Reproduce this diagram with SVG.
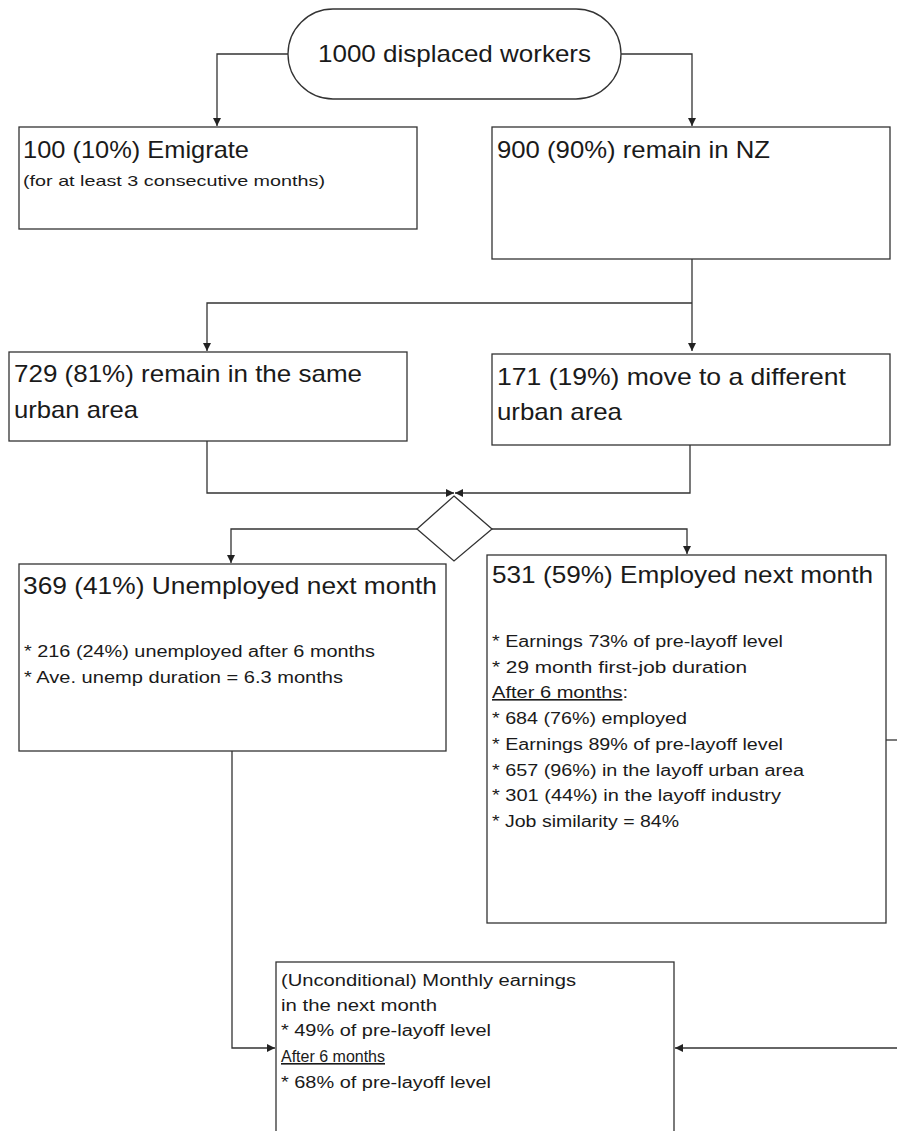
<svg xmlns="http://www.w3.org/2000/svg" width="897" height="1131" viewBox="0 0 897 1131">
<style>
.box{fill:#fff;stroke:#333;stroke-width:1.3}
.ln{fill:none;stroke:#333;stroke-width:1.3}
.t{font-family:"Liberation Sans",Arial,sans-serif;fill:#1a1a1a}
.big{font-size:24px}
.sm{font-size:16px}
.xs{font-size:15px}
.u{text-decoration:underline}
</style>
<defs>
<marker id="ah" markerUnits="userSpaceOnUse" markerWidth="9" markerHeight="9" refX="8" refY="4" orient="auto">
<path d="M0,0 L8,4 L0,8 z" fill="#222"/>
</marker>
</defs>
<g id="connectors">
<path class="ln" d="M288,54 H217 V126" marker-end="url(#ah)"/>
<path class="ln" d="M621,54 H692 V126" marker-end="url(#ah)"/>
<path class="ln" d="M692,259 V351" marker-end="url(#ah)"/>
<path class="ln" d="M692,303 H207 V351"  marker-end="url(#ah)"/>
<path class="ln" d="M207,441 V493 H454" marker-end="url(#ah)"/>
<path class="ln" d="M690,445 V493 H455" marker-end="url(#ah)"/>
<path class="ln" d="M417,529 H231 V563" marker-end="url(#ah)"/>
<path class="ln" d="M492,529 H687 V554" marker-end="url(#ah)"/>
<path class="ln" d="M886,740 H897"/>
<path class="ln" d="M232,751 V1048 H275" marker-end="url(#ah)"/>
<path class="ln" d="M897,1048 H675" marker-end="url(#ah)"/>
</g>
<g id="start">
<rect class="box" x="288" y="9" width="333" height="90" rx="45" ry="45"/>
<text class="t big" x="318" y="62" textLength="273" lengthAdjust="spacingAndGlyphs">1000 displaced workers</text>
</g>
<g id="emigrate">
<rect class="box" x="19" y="127" width="398" height="102"/>
<text class="t big" x="23" y="158" textLength="226" lengthAdjust="spacingAndGlyphs">100 (10%) Emigrate</text>
<text class="t xs" x="23" y="186" textLength="302" lengthAdjust="spacingAndGlyphs">(for at least 3 consecutive months)</text>
</g>
<g id="remain-nz">
<rect class="box" x="492" y="127" width="398" height="132"/>
<text class="t big" x="497" y="158" textLength="273" lengthAdjust="spacingAndGlyphs">900 (90%) remain in NZ</text>
</g>
<g id="same-area">
<rect class="box" x="9" y="352" width="398" height="89"/>
<text class="t big" x="14" y="382" textLength="348" lengthAdjust="spacingAndGlyphs">729 (81%) remain in the same</text>
<text class="t big" x="14" y="418" textLength="124" lengthAdjust="spacingAndGlyphs">urban area</text>
</g>
<g id="different-area">
<rect class="box" x="492" y="354" width="398" height="91"/>
<text class="t big" x="497" y="385" textLength="349" lengthAdjust="spacingAndGlyphs">171 (19%) move to a different</text>
<text class="t big" x="497" y="420" textLength="125" lengthAdjust="spacingAndGlyphs">urban area</text>
</g>
<g id="decision">
<polygon class="box" points="454,496 492,529 454,561 417,529"/>
</g>
<g id="unemployed">
<rect class="box" x="19" y="564" width="427" height="187"/>
<text class="t big" x="23" y="594" textLength="414" lengthAdjust="spacingAndGlyphs">369 (41%) Unemployed next month</text>
<text class="t sm" x="24" y="657" textLength="351" lengthAdjust="spacingAndGlyphs">* 216 (24%) unemployed after 6 months</text>
<text class="t sm" x="24" y="683" textLength="319" lengthAdjust="spacingAndGlyphs">* Ave. unemp duration = 6.3 months</text>
</g>
<g id="employed">
<rect class="box" x="487" y="555" width="399" height="368"/>
<text class="t big" x="492" y="583" textLength="381" lengthAdjust="spacingAndGlyphs">531 (59%) Employed next month</text>
<text class="t sm" x="492" y="647" textLength="291" lengthAdjust="spacingAndGlyphs">* Earnings 73% of pre-layoff level</text>
<text class="t sm" x="492" y="673" textLength="255" lengthAdjust="spacingAndGlyphs">* 29 month first-job duration</text>
<text class="t sm" x="492" y="698" textLength="136" lengthAdjust="spacingAndGlyphs"><tspan class="u">After 6 months</tspan>:</text>
<text class="t sm" x="492" y="724" textLength="195" lengthAdjust="spacingAndGlyphs">* 684 (76%) employed</text>
<text class="t sm" x="492" y="750" textLength="291" lengthAdjust="spacingAndGlyphs">* Earnings 89% of pre-layoff level</text>
<text class="t sm" x="492" y="776" textLength="312" lengthAdjust="spacingAndGlyphs">* 657 (96%) in the layoff urban area</text>
<text class="t sm" x="492" y="801" textLength="289" lengthAdjust="spacingAndGlyphs">* 301 (44%) in the layoff industry</text>
<text class="t sm" x="492" y="827" textLength="187" lengthAdjust="spacingAndGlyphs">* Job similarity = 84%</text>
</g>
<g id="earnings">
<rect class="box" x="276" y="962" width="398" height="180"/>
<text class="t sm" x="281" y="986" textLength="295" lengthAdjust="spacingAndGlyphs">(Unconditional) Monthly earnings</text>
<text class="t sm" x="281" y="1011" textLength="156" lengthAdjust="spacingAndGlyphs">in the next month</text>
<text class="t sm" x="281" y="1036" textLength="210" lengthAdjust="spacingAndGlyphs">* 49% of pre-layoff level</text>
<text class="t sm u" x="281" y="1062" textLength="104" lengthAdjust="spacingAndGlyphs">After 6 months</text>
<text class="t sm" x="281" y="1088" textLength="210" lengthAdjust="spacingAndGlyphs">* 68% of pre-layoff level</text>
</g>
</svg>
